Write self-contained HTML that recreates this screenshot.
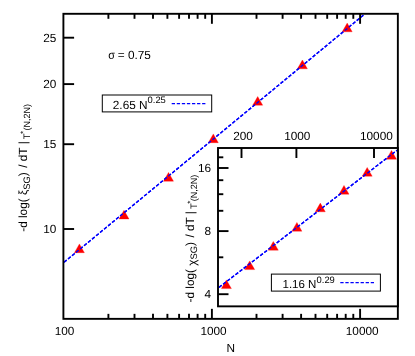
<!DOCTYPE html>
<html><head><meta charset="utf-8"><title>plot</title>
<style>
html,body{margin:0;padding:0;background:#fff;}
body{width:415px;height:356px;overflow:hidden;}
svg{display:block;will-change:transform;opacity:0.999;}
text{font-family:"Liberation Sans",sans-serif;fill:#000;text-rendering:geometricPrecision;}
</style></head><body>
<svg width="415" height="356" viewBox="0 0 415 356">
<rect x="0" y="0" width="415" height="356" fill="#fff"/>

<g fill="none" stroke="#0000ff" stroke-width="1.35" stroke-dasharray="3.4 1.8">
<path d="M64,262.3 L364,14.65"/>
</g>
<g id="mpts" fill="#ff0000" stroke="#ff0000" stroke-width="0.3" stroke-linejoin="miter">
<path d="M79.4,243.9 L84.4,252.7 L74.4,252.7 Z"/>
<path d="M124.0,210.2 L129.0,219.0 L119.0,219.0 Z"/>
<path d="M168.5,172.4 L173.5,181.2 L163.5,181.2 Z"/>
<path d="M213.3,133.9 L218.3,142.7 L208.3,142.7 Z"/>
<path d="M257.7,96.5 L262.7,105.2 L252.7,105.2 Z"/>
<path d="M302.4,60.0 L307.4,68.8 L297.4,68.8 Z"/>
<path d="M347.2,23.1 L352.2,31.8 L342.2,31.8 Z"/>
</g>
<path d="M64,262.3 L364,14.65" fill="none" stroke="#0000ff" stroke-width="1.35" stroke-dasharray="3.4 1.8"/>
<g stroke="#000" stroke-width="1.9" fill="none">
<path d="M108.4,318.85 V313.85"/><path d="M108.4,13.8 V18.8"/>
<path d="M134.5,318.85 V313.85"/><path d="M134.5,13.8 V18.8"/>
<path d="M153.0,318.85 V313.85"/><path d="M153.0,13.8 V18.8"/>
<path d="M167.4,318.85 V313.85"/><path d="M167.4,13.8 V18.8"/>
<path d="M179.1,318.85 V313.85"/><path d="M179.1,13.8 V18.8"/>
<path d="M189.0,318.85 V313.85"/><path d="M189.0,13.8 V18.8"/>
<path d="M197.6,318.85 V313.85"/><path d="M197.6,13.8 V18.8"/>
<path d="M205.2,318.85 V313.85"/><path d="M205.2,13.8 V18.8"/>
<path d="M211.9,318.85 V308.85"/><path d="M211.9,13.8 V23.8"/>
<path d="M256.5,318.85 V313.85"/><path d="M256.5,13.8 V18.8"/>
<path d="M282.6,318.85 V313.85"/><path d="M282.6,13.8 V18.8"/>
<path d="M301.1,318.85 V313.85"/><path d="M301.1,13.8 V18.8"/>
<path d="M315.5,318.85 V313.85"/><path d="M315.5,13.8 V18.8"/>
<path d="M327.2,318.85 V313.85"/><path d="M327.2,13.8 V18.8"/>
<path d="M337.1,318.85 V313.85"/><path d="M337.1,13.8 V18.8"/>
<path d="M345.7,318.85 V313.85"/><path d="M345.7,13.8 V18.8"/>
<path d="M353.3,318.85 V313.85"/><path d="M353.3,13.8 V18.8"/>
<path d="M360.1,318.85 V308.85"/><path d="M360.1,13.8 V23.8"/>
<path d="M63.4,37.7 H74.1"/>
<path d="M63.4,84.1 H74.1"/>
<path d="M63.4,144.2 H74.1"/>
<path d="M63.4,229.0 H74.1"/>
<rect x="63.4" y="13.8" width="334.45000000000005" height="305.05"/>
</g>
<g font-size="11.8">
<text x="56.4" y="41.9" text-anchor="end">25</text>
<text x="56.4" y="88.3" text-anchor="end">20</text>
<text x="56.4" y="148.4" text-anchor="end">15</text>
<text x="56.4" y="233.2" text-anchor="end">10</text>
<text x="64.6" y="334.5" text-anchor="middle">100</text>
<text x="213.5" y="334.5" text-anchor="middle">1000</text>
<text x="362.2" y="334.5" text-anchor="middle">10000</text>
<text x="230.8" y="352" text-anchor="middle">N</text>
<text transform="translate(108.2,58.9) scale(0.92,1)">σ</text>
<text x="117.8" y="58.9">=</text>
<text x="127.9" y="58.9">0.75</text>
</g>
<rect x="102.3" y="95" width="109.4" height="16.9" fill="#fff" stroke="#000" stroke-width="1"/>
<text x="112.8" y="108.6" font-size="11.8">2.65 N<tspan font-size="9.4" dy="-5.2">0.25</tspan></text>
<path d="M171.7,103.6 H205.4" fill="none" stroke="#0000ff" stroke-width="1.3" stroke-dasharray="3.3 1.77"/>
<text transform="translate(27.1,231.8) rotate(-90)" font-size="11.8">-d log( <tspan dy="0">ξ</tspan><tspan font-size="9.4" dy="2.7">SG</tspan><tspan dy="-2.7" dx="-3.2"> )</tspan><tspan dx="1.2"> / dT |</tspan><tspan font-size="9.4" dy="2.7" dx="2.0">T</tspan><tspan font-size="8" dy="-4.2" dx="-0.5">*</tspan><tspan font-size="9.0" dy="4.5" dx="0.5">(N,2N)</tspan></text>
<rect x="218" y="148" width="179.85000000000002" height="158.35000000000002" fill="#fff"/>
<path d="M219,287.4 L397,150.3" fill="none" stroke="#0000ff" stroke-width="1.35" stroke-dasharray="3.4 1.8"/>
<g id="ipts" fill="#ff0000" stroke="#ff0000" stroke-width="0.3">
<path d="M226.4,279.9 L231.4,288.6 L221.4,288.6 Z"/>
<path d="M249.7,260.9 L254.7,269.6 L244.7,269.6 Z"/>
<path d="M273.3,241.4 L278.3,250.2 L268.3,250.2 Z"/>
<path d="M296.9,222.4 L301.9,231.2 L291.9,231.2 Z"/>
<path d="M320.3,203.1 L325.3,211.8 L315.3,211.8 Z"/>
<path d="M344.0,185.4 L349.0,194.2 L339.0,194.2 Z"/>
<path d="M367.2,167.4 L372.2,176.2 L362.2,176.2 Z"/>
<path d="M391.5,150.4 L396.5,159.2 L386.5,159.2 Z"/>
</g>
<path d="M219,287.4 L397,150.3" fill="none" stroke="#0000ff" stroke-width="1.35" stroke-dasharray="3.4 1.8"/>
<g stroke="#000" stroke-width="1.9" fill="none">
<path d="M241.5,148 V158"/>
<path d="M296.4,148 V158"/>
<path d="M374,148 V158"/>
<path d="M218,294.2 H228.5"/>
<path d="M218,257.3 H223.3"/>
<path d="M218,231.1 H228.5"/>
<path d="M218,210.8 H223.3"/>
<path d="M218,194.2 H223.3"/>
<path d="M218,180.2 H223.3"/>
<path d="M218,168.0 H228.5"/>
<path d="M218,157.3 H223.3"/>
<rect x="218" y="148" width="179.85000000000002" height="158.35000000000002"/>
</g>
<g font-size="11.8">
<text x="211" y="298.4" text-anchor="end">4</text>
<text x="211" y="235.3" text-anchor="end">8</text>
<text x="211" y="172.2" text-anchor="end">16</text>
<text x="243.1" y="140.2" text-anchor="middle">200</text>
<text x="297.3" y="140.2" text-anchor="middle">1000</text>
<text x="376.4" y="140.2" text-anchor="middle">10000</text>
</g>
<text transform="translate(194.1,302.5) rotate(-90)" font-size="11.8">-d log( <tspan dy="2">χ</tspan><tspan font-size="9.4" dy="0.7000000000000002">SG</tspan><tspan dy="-2.7" dx="-3.2"> )</tspan><tspan dx="1.2"> / dT |</tspan><tspan font-size="9.4" dy="2.7" dx="2.0">T</tspan><tspan font-size="8" dy="-4.2" dx="-0.5">*</tspan><tspan font-size="9.0" dy="4.5" dx="-0.6">(N,2N)</tspan></text>
<rect x="271.4" y="274.1" width="109" height="17" fill="#fff" stroke="#000" stroke-width="1"/>
<text x="282.5" y="287.8" font-size="11.5">1.16 N<tspan font-size="9.4" dy="-5.2" dx="0.2">0.29</tspan></text>
<path d="M340.3,282.7 H374" fill="none" stroke="#0000ff" stroke-width="1.3" stroke-dasharray="3.3 1.77"/>
</svg></body></html>
